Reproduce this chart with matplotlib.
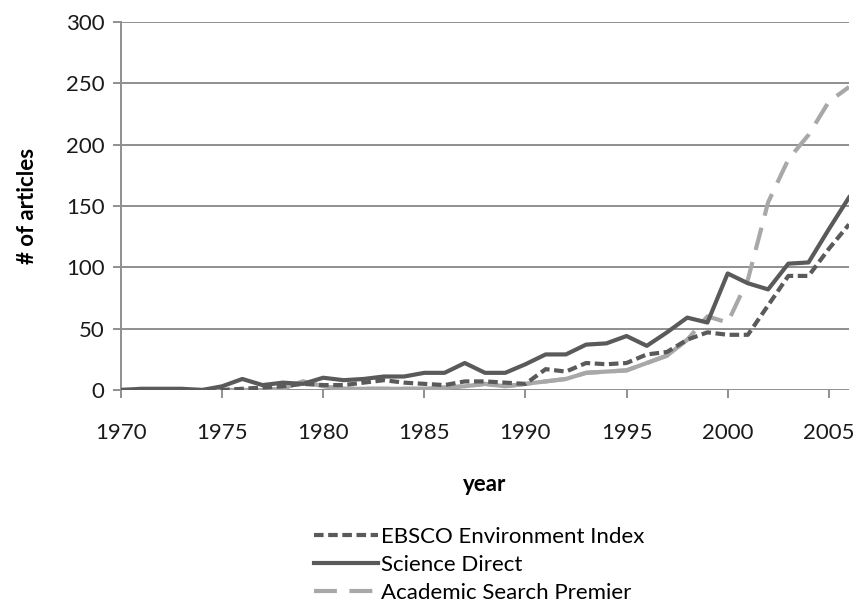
import matplotlib
matplotlib.use("Agg")
import matplotlib.pyplot as plt
import numpy as np

plt.rcParams["font.family"] = ["Lato", "DejaVu Sans"]

years = np.arange(1970, 2007)

ebsco = [0, 0, 0, 0, 0, 0, 1, 2, 3, 5, 4, 4, 6, 8, 6, 5, 4, 7, 7, 6,
         5, 17, 15, 22, 21, 22, 29, 31, 41, 47, 45, 45, 69, 93, 93, 115, 135]
science_direct = [0, 1, 1, 1, 0, 3, 9, 4, 6, 5, 10, 8, 9, 11, 11, 14, 14, 22, 14, 14,
                  21, 29, 29, 37, 38, 44, 36, 47, 59, 55, 95, 87, 82, 103, 104, 131, 157]
academic = [0, 0, 0, 0, 0, 0, 0, 0, 1, 7, 3, 1, 1, 1, 1, 1, 2, 3, 5, 3,
            5, 7, 9, 14, 15, 16, 22, 28, 41, 60, 55, 90, 153, 188, 208, 235, 247]

dark = "#5a5a5a"
light = "#a8a8a8"
grid = "#8f8f8f"
lw = 3.0

fig = plt.figure(figsize=(8.56, 6.05), dpi=100)
ax = fig.add_axes([121 / 856, 1 - 390 / 605, (849 - 121) / 856, (390 - 22) / 605])

# light series drawn solid in its low part, dashed over the whole range
early = years <= 1998
ax.plot(years[early], np.array(academic)[early], color=light, lw=lw,
        solid_capstyle="butt", zorder=2)
ax.plot(years, academic, color=light, lw=lw, dashes=(5.5, 3),
        label="Academic Search Premier", zorder=2)
ax.plot(years, ebsco, color=dark, lw=lw, dashes=(2.3, 1.1),
        label="EBSCO Environment Index", zorder=3)
ax.plot(years, science_direct, color=dark, lw=lw,
        label="Science Direct", zorder=4)

ax.set_xlim(1970, 2006)
ax.set_ylim(0, 300)
ax.set_xticks(np.arange(1970, 2006, 5))
ax.set_yticks(np.arange(0, 301, 50))
ax.yaxis.grid(True, color=grid, lw=1.4)
ax.set_axisbelow(True)
for s in ["top", "right", "bottom"]:
    ax.spines[s].set_visible(False)
ax.spines["left"].set_color(grid)
ax.spines["left"].set_linewidth(1.4)
ax.tick_params(axis="both", colors=grid, width=1.4, length=6, labelsize=16,
               labelcolor="#1a1a1a")
ax.tick_params(axis="x", pad=18)
ax.tick_params(axis="y", pad=6)

ax.set_xlabel("year", fontsize=16, fontweight="bold", labelpad=22)
ax.set_ylabel("# of articles", fontsize=16, fontweight="bold", labelpad=20)

h, l = ax.get_legend_handles_labels()
order = [1, 2, 0]
fig.legend([h[i] for i in order], [l[i] for i in order],
           loc="upper left", bbox_to_anchor=(305 / 856, 1 - 518 / 605),
           frameon=False, fontsize=16, handlelength=2.9, handletextpad=0.1,
           labelspacing=0.36, borderaxespad=0)

fig.savefig("out.png", dpi=100, facecolor="white")
